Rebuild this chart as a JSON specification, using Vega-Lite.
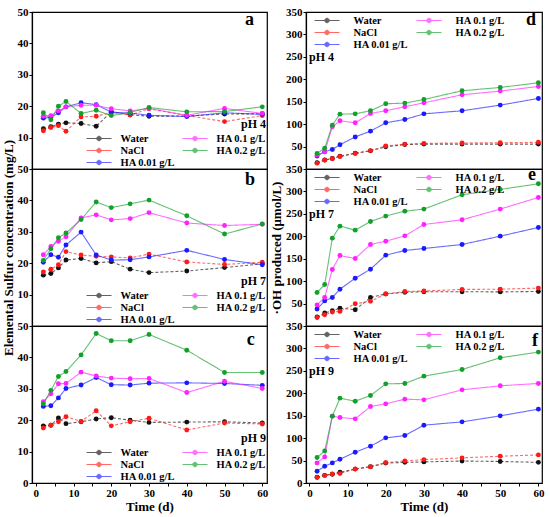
{
  "$schema": "https://vega.github.io/schema/vega-lite/v6.json",
  "background": "white",
  "padding": {"left": 1, "top": 5, "right": 5, "bottom": 5},
  "datasets": {
    "sulfur": [
      {"pH": 4, "t": 2, "Water": 12.8, "NaCl": 12.2, "HA001": 16.2, "HA01": 16.8, "HA02": 17.9},
      {"pH": 4, "t": 4, "Water": 13.5, "NaCl": 13.2, "HA001": 16.4, "HA01": 17.0, "HA02": 15.7},
      {"pH": 4, "t": 6, "Water": 14.3, "NaCl": 13.8, "HA001": 17.9, "HA01": 18.5, "HA02": 20.0},
      {"pH": 4, "t": 8, "Water": 14.7, "NaCl": 12.0, "HA001": 19.8, "HA01": 19.8, "HA02": 21.5},
      {"pH": 4, "t": 12, "Water": 14.5, "NaCl": 16.6, "HA001": 21.1, "HA01": 20.3, "HA02": 17.7},
      {"pH": 4, "t": 16, "Water": 13.6, "NaCl": 16.8, "HA001": 20.5, "HA01": 20.3, "HA02": 18.7},
      {"pH": 4, "t": 20, "Water": 18.2, "NaCl": 18.0, "HA001": 18.1, "HA01": 19.2, "HA02": 17.0},
      {"pH": 4, "t": 25, "Water": 17.3, "NaCl": 17.2, "HA001": 17.8, "HA01": 18.5, "HA02": 18.0},
      {"pH": 4, "t": 30, "Water": 16.8, "NaCl": 19.2, "HA001": 17.1, "HA01": 19.3, "HA02": 19.6},
      {"pH": 4, "t": 40, "Water": 16.9, "NaCl": 17.0, "HA001": 16.7, "HA01": 17.1, "HA02": 18.2},
      {"pH": 4, "t": 50, "Water": 17.5, "NaCl": 15.1, "HA001": 17.9, "HA01": 19.3, "HA02": 18.3},
      {"pH": 4, "t": 60, "Water": 17.6, "NaCl": 17.0, "HA001": 17.4, "HA01": 17.7, "HA02": 19.8},
      {"pH": 7, "t": 2, "Water": 16.2, "NaCl": 17.2, "HA001": 20.3, "HA01": 22.7, "HA02": 20.9},
      {"pH": 7, "t": 4, "Water": 16.7, "NaCl": 18.1, "HA001": 22.7, "HA01": 25.3, "HA02": 24.6},
      {"pH": 7, "t": 6, "Water": 18.5, "NaCl": 19.5, "HA001": 21.9, "HA01": 27.0, "HA02": 28.1},
      {"pH": 7, "t": 8, "Water": 21.0, "NaCl": 23.7, "HA001": 25.8, "HA01": 28.4, "HA02": 29.6},
      {"pH": 7, "t": 12, "Water": 21.5, "NaCl": 22.6, "HA001": 29.9, "HA01": 34.4, "HA02": 33.9},
      {"pH": 7, "t": 16, "Water": 20.1, "NaCl": 22.2, "HA001": 22.6, "HA01": 35.4, "HA02": 39.5},
      {"pH": 7, "t": 20, "Water": 20.5, "NaCl": 22.0, "HA001": 21.0, "HA01": 33.8, "HA02": 37.7},
      {"pH": 7, "t": 25, "Water": 18.1, "NaCl": 21.7, "HA001": 21.1, "HA01": 34.2, "HA02": 38.9},
      {"pH": 7, "t": 30, "Water": 17.0, "NaCl": 22.9, "HA001": 22.0, "HA01": 36.1, "HA02": 40.1},
      {"pH": 7, "t": 40, "Water": 17.5, "NaCl": 20.4, "HA001": 24.1, "HA01": 32.8, "HA02": 35.1},
      {"pH": 7, "t": 50, "Water": 18.6, "NaCl": 19.6, "HA001": 21.2, "HA01": 32.0, "HA02": 29.3},
      {"pH": 7, "t": 60, "Water": 19.8, "NaCl": 20.3, "HA001": 19.5, "HA01": 32.4, "HA02": 32.5},
      {"pH": 9, "t": 2, "Water": 18.2, "NaCl": 17.5, "HA001": 24.4, "HA01": 25.9, "HA02": 25.2},
      {"pH": 9, "t": 4, "Water": 18.4, "NaCl": 18.4, "HA001": 24.6, "HA01": 28.4, "HA02": 29.5},
      {"pH": 9, "t": 6, "Water": 20.7, "NaCl": 19.5, "HA001": 27.1, "HA01": 31.6, "HA02": 33.9},
      {"pH": 9, "t": 8, "Water": 18.9, "NaCl": 21.1, "HA001": 30.1, "HA01": 31.7, "HA02": 35.5},
      {"pH": 9, "t": 12, "Water": 19.5, "NaCl": 19.6, "HA001": 31.2, "HA01": 35.3, "HA02": 40.8},
      {"pH": 9, "t": 16, "Water": 20.4, "NaCl": 23.0, "HA001": 33.6, "HA01": 34.1, "HA02": 47.6},
      {"pH": 9, "t": 20, "Water": 20.8, "NaCl": 18.2, "HA001": 31.3, "HA01": 33.4, "HA02": 45.3},
      {"pH": 9, "t": 25, "Water": 20.0, "NaCl": 19.5, "HA001": 31.2, "HA01": 33.2, "HA02": 45.3},
      {"pH": 9, "t": 30, "Water": 19.3, "NaCl": 20.6, "HA001": 31.8, "HA01": 33.3, "HA02": 47.3},
      {"pH": 9, "t": 40, "Water": 19.4, "NaCl": 16.9, "HA001": 31.9, "HA01": 28.8, "HA02": 42.3},
      {"pH": 9, "t": 50, "Water": 19.5, "NaCl": 19.1, "HA001": 31.7, "HA01": 32.4, "HA02": 35.2},
      {"pH": 9, "t": 60, "Water": 19.1, "NaCl": 18.8, "HA001": 31.1, "HA01": 30.1, "HA02": 35.2}
    ],
    "oh": [
      {"pH": 4, "t": 2, "Water": 14.0, "NaCl": 13.0, "HA001": 29.0, "HA01": 31.0, "HA02": 34.5},
      {"pH": 4, "t": 4, "Water": 20.0, "NaCl": 19.7, "HA001": 38.5, "HA01": 38.2, "HA02": 46.4},
      {"pH": 4, "t": 6, "Water": 23.5, "NaCl": 23.0, "HA001": 43.5, "HA01": 94.0, "HA02": 97.8},
      {"pH": 4, "t": 8, "Water": 28.5, "NaCl": 27.8, "HA001": 54.2, "HA01": 107.4, "HA02": 122.3},
      {"pH": 4, "t": 12, "Water": 35.3, "NaCl": 34.5, "HA001": 71.5, "HA01": 103.0, "HA02": 123.0},
      {"pH": 4, "t": 16, "Water": 40.5, "NaCl": 41.0, "HA001": 84.4, "HA01": 123.8, "HA02": 129.8},
      {"pH": 4, "t": 20, "Water": 49.5, "NaCl": 51.3, "HA001": 103.0, "HA01": 129.8, "HA02": 145.4},
      {"pH": 4, "t": 25, "Water": 54.5, "NaCl": 55.3, "HA001": 110.4, "HA01": 138.7, "HA02": 146.9},
      {"pH": 4, "t": 30, "Water": 55.5, "NaCl": 57.2, "HA001": 123.0, "HA01": 147.6, "HA02": 155.0},
      {"pH": 4, "t": 40, "Water": 55.5, "NaCl": 58.0, "HA001": 129.8, "HA01": 165.5, "HA02": 174.4},
      {"pH": 4, "t": 50, "Water": 55.5, "NaCl": 58.5, "HA001": 142.4, "HA01": 173.7, "HA02": 181.8},
      {"pH": 4, "t": 60, "Water": 55.5, "NaCl": 59.5, "HA001": 157.3, "HA01": 184.0, "HA02": 192.2},
      {"pH": 7, "t": 2, "Water": 20.0, "NaCl": 18.8, "HA001": 38.0, "HA01": 47.0, "HA02": 74.6},
      {"pH": 7, "t": 4, "Water": 29.0, "NaCl": 25.0, "HA001": 56.0, "HA01": 63.4, "HA02": 92.4},
      {"pH": 7, "t": 6, "Water": 34.0, "NaCl": 31.0, "HA001": 63.4, "HA01": 126.0, "HA02": 195.8},
      {"pH": 7, "t": 8, "Water": 39.6, "NaCl": 32.5, "HA001": 82.0, "HA01": 157.1, "HA02": 222.6},
      {"pH": 7, "t": 12, "Water": 36.3, "NaCl": 49.6, "HA001": 106.5, "HA01": 150.4, "HA02": 213.7},
      {"pH": 7, "t": 16, "Water": 63.5, "NaCl": 55.2, "HA001": 126.6, "HA01": 181.7, "HA02": 233.0},
      {"pH": 7, "t": 20, "Water": 71.6, "NaCl": 71.5, "HA001": 157.9, "HA01": 189.0, "HA02": 245.0},
      {"pH": 7, "t": 25, "Water": 75.0, "NaCl": 77.0, "HA001": 168.3, "HA01": 201.0, "HA02": 256.0},
      {"pH": 7, "t": 30, "Water": 76.5, "NaCl": 78.0, "HA001": 172.8, "HA01": 226.3, "HA02": 260.6},
      {"pH": 7, "t": 40, "Water": 76.5, "NaCl": 81.5, "HA001": 181.7, "HA01": 236.8, "HA02": 292.6},
      {"pH": 7, "t": 50, "Water": 76.0, "NaCl": 82.0, "HA001": 200.3, "HA01": 260.6, "HA02": 304.5},
      {"pH": 7, "t": 60, "Water": 77.0, "NaCl": 84.5, "HA001": 219.6, "HA01": 286.6, "HA02": 317.0},
      {"pH": 9, "t": 2, "Water": 13.0, "NaCl": 12.3, "HA001": 26.2, "HA01": 44.8, "HA02": 56.7},
      {"pH": 9, "t": 4, "Water": 17.0, "NaCl": 16.5, "HA001": 37.4, "HA01": 58.2, "HA02": 71.6},
      {"pH": 9, "t": 6, "Water": 19.5, "NaCl": 20.2, "HA001": 44.8, "HA01": 149.0, "HA02": 149.0},
      {"pH": 9, "t": 8, "Water": 24.0, "NaCl": 21.0, "HA001": 53.0, "HA01": 146.0, "HA02": 189.1},
      {"pH": 9, "t": 12, "Water": 31.0, "NaCl": 31.4, "HA001": 68.6, "HA01": 143.0, "HA02": 182.4},
      {"pH": 9, "t": 16, "Water": 36.5, "NaCl": 35.9, "HA001": 82.0, "HA01": 170.5, "HA02": 195.0},
      {"pH": 9, "t": 20, "Water": 44.5, "NaCl": 45.5, "HA001": 100.6, "HA01": 176.5, "HA02": 221.0},
      {"pH": 9, "t": 25, "Water": 46.0, "NaCl": 49.3, "HA001": 105.8, "HA01": 186.9, "HA02": 221.9},
      {"pH": 9, "t": 30, "Water": 47.0, "NaCl": 52.2, "HA001": 128.9, "HA01": 185.4, "HA02": 238.2},
      {"pH": 9, "t": 40, "Water": 49.0, "NaCl": 56.0, "HA001": 136.3, "HA01": 207.7, "HA02": 253.1},
      {"pH": 9, "t": 50, "Water": 48.0, "NaCl": 59.7, "HA001": 149.7, "HA01": 216.7, "HA02": 279.2},
      {"pH": 9, "t": 60, "Water": 46.0, "NaCl": 62.6, "HA001": 164.6, "HA01": 221.9, "HA02": 291.8}
    ]
  },
  "config": {
    "font": "Liberation Serif",
    "view": {"stroke": "#000", "strokeWidth": 1.2},
    "title": {"font": "Liberation Serif", "fontWeight": "bold", "fontSize": 18, "anchor": "end", "color": "#000", "baseline": "alphabetic"},
    "axis": {
      "grid": false,
      "labelFont": "Liberation Serif",
      "labelFontWeight": "bold",
      "labelFontSize": 11,
      "labelColor": "#000",
      "labelPadding": 1,
      "labelOverlap": false,
      "labelFlush": false,
      "tickColor": "#000",
      "tickSize": 3,
      "domainColor": "#000",
      "domainWidth": 1.2,
      "titleFont": "Liberation Serif",
      "titleFontWeight": "bold",
      "titleFontSize": 13,
      "titleColor": "#000",
      "titlePadding": 2
    },
    "legend": {
      "symbolType": "M-2.5,0H2.5M-0.45,0A0.45,0.45,0,1,0,0.45,0A0.45,0.45,0,1,0,-0.45,0Z",
      "symbolSize": 100,
      "symbolStrokeWidth": 1,
      "labelFont": "Liberation Serif",
      "labelFontWeight": "bold",
      "labelFontSize": 10.5,
      "labelColor": "#000",
      "titleFont": "Liberation Serif",
      "titleFontWeight": "bold",
      "titleFontSize": 12,
      "titleColor": "#000",
      "titlePadding": 2,
      "rowPadding": 1,
      "padding": 0
    }
  },
  "spacing": 0,
  "resolve": {"scale": {"color": "shared", "strokeDash": "shared"}, "legend": {"color": "independent"}},
  "hconcat": [
    {
      "spacing": 0,
      "bounds": "flush",
      "resolve": {"scale": {"color": "shared", "strokeDash": "shared"}, "legend": {"color": "independent"}},
      "vconcat": [
        {
          "width": 235, "height": 157,
          "title": {"text": "a", "offset": -23, "dx": -13},
          "data": {"name": "sulfur"},
          "transform": [{"filter": "datum.pH == 4"}, {"fold": ["Water", "NaCl", "HA001", "HA01", "HA02"], "as": ["series", "value"]}],
          "encoding": {
            "x": {"field": "t", "type": "quantitative", "scale": {"domain": [-1, 61.25], "nice": false}, "axis": null},
            "y": {"field": "value", "type": "quantitative", "scale": {"domain": [0, 50], "nice": false}, "axis": {"values": [10, 20, 30, 40, 50], "title": null}}
          },
          "layer": [
            {
              "mark": {"type": "line", "strokeWidth": 1.1, "opacity": 0.65},
              "encoding": {
                "color": {"field": "series", "type": "nominal", "scale": {"domain": ["Water", "HA01", "NaCl", "HA02", "HA001"], "range": ["#111111", "#ff22ff", "#ff1a1a", "#12a02a", "#1a1aff"]},
                  "legend": {"title": "pH 4", "titleAnchor": "end", "titleOrient": "top", "orient": "bottom-right", "direction": "horizontal", "columns": 2, "gridAlign": "none", "offset": 1,
                    "symbolOffset": 7.5, "labelOffset": 16, "columnPadding": 4,
                    "labelExpr": "datum.label == 'HA001' ? 'HA 0.01 g/L' : datum.label == 'HA01' ? 'HA 0.1 g/L' : datum.label == 'HA02' ? 'HA 0.2 g/L' : datum.label",
                    "encode": {"symbols": {"update": {
                      "fill": {"signal": "datum.value == 'Water' ? '#111111' : datum.value == 'NaCl' ? '#ff1a1a' : datum.value == 'HA001' ? '#1a1aff' : datum.value == 'HA01' ? '#ff22ff' : '#12a02a'"},
                      "strokeDash": {"signal": "datum.value == 'Water' || datum.value == 'NaCl' ? [3, 2] : [1, 0]"}}}}}},
                "strokeDash": {"field": "series", "type": "nominal", "scale": {"domain": ["Water", "HA01", "NaCl", "HA02", "HA001"], "range": [[3, 2], [1, 0], [3, 2], [1, 0], [1, 0]]}, "legend": null}
              }
            },
            {
              "mark": {"type": "point", "filled": true, "size": 24, "opacity": 1},
              "encoding": {"color": {"field": "series", "type": "nominal", "scale": {"domain": ["Water", "HA01", "NaCl", "HA02", "HA001"]}, "legend": null}}
            }
          ]
        },
        {
          "width": 235, "height": 157,
          "title": {"text": "b", "offset": -50, "dx": -12},
          "data": {"name": "sulfur"},
          "transform": [{"filter": "datum.pH == 7"}, {"fold": ["Water", "NaCl", "HA001", "HA01", "HA02"], "as": ["series", "value"]}],
          "encoding": {
            "x": {"field": "t", "type": "quantitative", "scale": {"domain": [-1, 61.25], "nice": false}, "axis": null},
            "y": {"field": "value", "type": "quantitative", "scale": {"domain": [0, 50], "nice": false}, "axis": {"values": [10, 20, 30, 40, 50], "title": "Elemental Sulfur concentration (mg/L)"}}
          },
          "layer": [
            {
              "mark": {"type": "line", "strokeWidth": 1.1, "opacity": 0.65},
              "encoding": {
                "color": {"field": "series", "type": "nominal", "scale": {"domain": ["Water", "HA01", "NaCl", "HA02", "HA001"], "range": ["#111111", "#ff22ff", "#ff1a1a", "#12a02a", "#1a1aff"]},
                  "legend": {"title": "pH 7", "titleAnchor": "end", "titleOrient": "top", "orient": "bottom-right", "direction": "horizontal", "columns": 2, "gridAlign": "none", "offset": 1,
                    "symbolOffset": 7.5, "labelOffset": 16, "columnPadding": 4,
                    "labelExpr": "datum.label == 'HA001' ? 'HA 0.01 g/L' : datum.label == 'HA01' ? 'HA 0.1 g/L' : datum.label == 'HA02' ? 'HA 0.2 g/L' : datum.label",
                    "encode": {"symbols": {"update": {
                      "fill": {"signal": "datum.value == 'Water' ? '#111111' : datum.value == 'NaCl' ? '#ff1a1a' : datum.value == 'HA001' ? '#1a1aff' : datum.value == 'HA01' ? '#ff22ff' : '#12a02a'"},
                      "strokeDash": {"signal": "datum.value == 'Water' || datum.value == 'NaCl' ? [3, 2] : [1, 0]"}}}}}},
                "strokeDash": {"field": "series", "type": "nominal", "scale": {"domain": ["Water", "HA01", "NaCl", "HA02", "HA001"], "range": [[3, 2], [1, 0], [3, 2], [1, 0], [1, 0]]}, "legend": null}
              }
            },
            {
              "mark": {"type": "point", "filled": true, "size": 24, "opacity": 1},
              "encoding": {"color": {"field": "series", "type": "nominal", "scale": {"domain": ["Water", "HA01", "NaCl", "HA02", "HA001"]}, "legend": null}}
            }
          ]
        },
        {
          "width": 235, "height": 157,
          "title": {"text": "c", "offset": -29, "dx": -13},
          "data": {"name": "sulfur"},
          "transform": [{"filter": "datum.pH == 9"}, {"fold": ["Water", "NaCl", "HA001", "HA01", "HA02"], "as": ["series", "value"]}],
          "encoding": {
            "x": {"field": "t", "type": "quantitative", "scale": {"domain": [-1, 61.25], "nice": false},
              "axis": {"values": [0, 5, 10, 15, 20, 25, 30, 35, 40, 45, 50, 55, 60], "labelExpr": "datum.value % 10 == 0 ? datum.label : ''", "title": "Time (d)"}},
            "y": {"field": "value", "type": "quantitative", "scale": {"domain": [0, 50], "nice": false}, "axis": {"values": [0, 10, 20, 30, 40, 50], "title": null}}
          },
          "layer": [
            {
              "mark": {"type": "line", "strokeWidth": 1.1, "opacity": 0.65},
              "encoding": {
                "color": {"field": "series", "type": "nominal", "scale": {"domain": ["Water", "HA01", "NaCl", "HA02", "HA001"], "range": ["#111111", "#ff22ff", "#ff1a1a", "#12a02a", "#1a1aff"]},
                  "legend": {"title": "pH 9", "titleAnchor": "end", "titleOrient": "top", "orient": "bottom-right", "direction": "horizontal", "columns": 2, "gridAlign": "none", "offset": 1,
                    "symbolOffset": 7.5, "labelOffset": 16, "columnPadding": 4,
                    "labelExpr": "datum.label == 'HA001' ? 'HA 0.01 g/L' : datum.label == 'HA01' ? 'HA 0.1 g/L' : datum.label == 'HA02' ? 'HA 0.2 g/L' : datum.label",
                    "encode": {"symbols": {"update": {
                      "fill": {"signal": "datum.value == 'Water' ? '#111111' : datum.value == 'NaCl' ? '#ff1a1a' : datum.value == 'HA001' ? '#1a1aff' : datum.value == 'HA01' ? '#ff22ff' : '#12a02a'"},
                      "strokeDash": {"signal": "datum.value == 'Water' || datum.value == 'NaCl' ? [3, 2] : [1, 0]"}}}}}},
                "strokeDash": {"field": "series", "type": "nominal", "scale": {"domain": ["Water", "HA01", "NaCl", "HA02", "HA001"], "range": [[3, 2], [1, 0], [3, 2], [1, 0], [1, 0]]}, "legend": null}
              }
            },
            {
              "mark": {"type": "point", "filled": true, "size": 24, "opacity": 1},
              "encoding": {"color": {"field": "series", "type": "nominal", "scale": {"domain": ["Water", "HA01", "NaCl", "HA02", "HA001"]}, "legend": null}}
            }
          ]
        }
      ]
    },
    {
      "spacing": 0,
      "bounds": "flush",
      "resolve": {"scale": {"color": "shared", "strokeDash": "shared"}, "legend": {"color": "independent"}},
      "vconcat": [
        {
          "width": 236, "height": 157,
          "title": {"text": "d", "offset": -23, "dx": -6},
          "data": {"name": "oh"},
          "transform": [{"filter": "datum.pH == 4"}, {"fold": ["Water", "NaCl", "HA001", "HA01", "HA02"], "as": ["series", "value"]}],
          "encoding": {
            "x": {"field": "t", "type": "quantitative", "scale": {"domain": [-0.9, 60.95], "nice": false}, "axis": null},
            "y": {"field": "value", "type": "quantitative", "scale": {"domain": [0, 350], "nice": false}, "axis": {"values": [50, 100, 150, 200, 250, 300, 350], "title": null}}
          },
          "layer": [
            {
              "mark": {"type": "line", "strokeWidth": 1.1, "opacity": 0.65},
              "encoding": {
                "color": {"field": "series", "type": "nominal", "scale": {"domain": ["Water", "HA01", "NaCl", "HA02", "HA001"], "range": ["#111111", "#ff22ff", "#ff1a1a", "#12a02a", "#1a1aff"]},
                  "legend": {"title": "pH 4", "titleAnchor": "start", "titleOrient": "bottom", "orient": "top-left", "direction": "horizontal", "columns": 2, "gridAlign": "none", "offset": 3,
                    "symbolOffset": 12.5, "labelOffset": 21, "columnPadding": 2,
                    "labelExpr": "datum.label == 'HA001' ? 'HA 0.01 g/L' : datum.label == 'HA01' ? 'HA 0.1 g/L' : datum.label == 'HA02' ? 'HA 0.2 g/L' : datum.label",
                    "encode": {"symbols": {"update": {
                      "fill": {"signal": "datum.value == 'Water' ? '#111111' : datum.value == 'NaCl' ? '#ff1a1a' : datum.value == 'HA001' ? '#1a1aff' : datum.value == 'HA01' ? '#ff22ff' : '#12a02a'"},
                      "strokeDash": {"signal": "datum.value == 'Water' || datum.value == 'NaCl' ? [3, 2] : [1, 0]"}}}}}},
                "strokeDash": {"field": "series", "type": "nominal", "scale": {"domain": ["Water", "HA01", "NaCl", "HA02", "HA001"], "range": [[3, 2], [1, 0], [3, 2], [1, 0], [1, 0]]}, "legend": null}
              }
            },
            {
              "mark": {"type": "point", "filled": true, "size": 24, "opacity": 1},
              "encoding": {"color": {"field": "series", "type": "nominal", "scale": {"domain": ["Water", "HA01", "NaCl", "HA02", "HA001"]}, "legend": null}}
            }
          ]
        },
        {
          "width": 236, "height": 157,
          "title": {"text": "e", "offset": -21, "dx": -6},
          "data": {"name": "oh"},
          "transform": [{"filter": "datum.pH == 7"}, {"fold": ["Water", "NaCl", "HA001", "HA01", "HA02"], "as": ["series", "value"]}],
          "encoding": {
            "x": {"field": "t", "type": "quantitative", "scale": {"domain": [-0.9, 60.95], "nice": false}, "axis": null},
            "y": {"field": "value", "type": "quantitative", "scale": {"domain": [0, 350], "nice": false}, "axis": {"values": [50, 100, 150, 200, 250, 300, 350], "title": "·OH produced (μmol/L)"}}
          },
          "layer": [
            {
              "mark": {"type": "line", "strokeWidth": 1.1, "opacity": 0.65},
              "encoding": {
                "color": {"field": "series", "type": "nominal", "scale": {"domain": ["Water", "HA01", "NaCl", "HA02", "HA001"], "range": ["#111111", "#ff22ff", "#ff1a1a", "#12a02a", "#1a1aff"]},
                  "legend": {"title": "pH 7", "titleAnchor": "start", "titleOrient": "bottom", "orient": "top-left", "direction": "horizontal", "columns": 2, "gridAlign": "none", "offset": 3,
                    "symbolOffset": 12.5, "labelOffset": 21, "columnPadding": 2,
                    "labelExpr": "datum.label == 'HA001' ? 'HA 0.01 g/L' : datum.label == 'HA01' ? 'HA 0.1 g/L' : datum.label == 'HA02' ? 'HA 0.2 g/L' : datum.label",
                    "encode": {"symbols": {"update": {
                      "fill": {"signal": "datum.value == 'Water' ? '#111111' : datum.value == 'NaCl' ? '#ff1a1a' : datum.value == 'HA001' ? '#1a1aff' : datum.value == 'HA01' ? '#ff22ff' : '#12a02a'"},
                      "strokeDash": {"signal": "datum.value == 'Water' || datum.value == 'NaCl' ? [3, 2] : [1, 0]"}}}}}},
                "strokeDash": {"field": "series", "type": "nominal", "scale": {"domain": ["Water", "HA01", "NaCl", "HA02", "HA001"], "range": [[3, 2], [1, 0], [3, 2], [1, 0], [1, 0]]}, "legend": null}
              }
            },
            {
              "mark": {"type": "point", "filled": true, "size": 24, "opacity": 1},
              "encoding": {"color": {"field": "series", "type": "nominal", "scale": {"domain": ["Water", "HA01", "NaCl", "HA02", "HA001"]}, "legend": null}}
            }
          ]
        },
        {
          "width": 236, "height": 157,
          "title": {"text": "f", "offset": -29.5, "dx": -6},
          "data": {"name": "oh"},
          "transform": [{"filter": "datum.pH == 9"}, {"fold": ["Water", "NaCl", "HA001", "HA01", "HA02"], "as": ["series", "value"]}],
          "encoding": {
            "x": {"field": "t", "type": "quantitative", "scale": {"domain": [-0.9, 60.95], "nice": false},
              "axis": {"values": [0, 5, 10, 15, 20, 25, 30, 35, 40, 45, 50, 55, 60], "labelExpr": "datum.value % 10 == 0 ? datum.label : ''", "title": "Time (d)"}},
            "y": {"field": "value", "type": "quantitative", "scale": {"domain": [0, 350], "nice": false}, "axis": {"values": [0, 50, 100, 150, 200, 250, 300, 350], "title": null}}
          },
          "layer": [
            {
              "mark": {"type": "line", "strokeWidth": 1.1, "opacity": 0.65},
              "encoding": {
                "color": {"field": "series", "type": "nominal", "scale": {"domain": ["Water", "HA01", "NaCl", "HA02", "HA001"], "range": ["#111111", "#ff22ff", "#ff1a1a", "#12a02a", "#1a1aff"]},
                  "legend": {"title": "pH 9", "titleAnchor": "start", "titleOrient": "bottom", "orient": "top-left", "direction": "horizontal", "columns": 2, "gridAlign": "none", "offset": 3,
                    "symbolOffset": 12.5, "labelOffset": 21, "columnPadding": 2,
                    "labelExpr": "datum.label == 'HA001' ? 'HA 0.01 g/L' : datum.label == 'HA01' ? 'HA 0.1 g/L' : datum.label == 'HA02' ? 'HA 0.2 g/L' : datum.label",
                    "encode": {"symbols": {"update": {
                      "fill": {"signal": "datum.value == 'Water' ? '#111111' : datum.value == 'NaCl' ? '#ff1a1a' : datum.value == 'HA001' ? '#1a1aff' : datum.value == 'HA01' ? '#ff22ff' : '#12a02a'"},
                      "strokeDash": {"signal": "datum.value == 'Water' || datum.value == 'NaCl' ? [3, 2] : [1, 0]"}}}}}},
                "strokeDash": {"field": "series", "type": "nominal", "scale": {"domain": ["Water", "HA01", "NaCl", "HA02", "HA001"], "range": [[3, 2], [1, 0], [3, 2], [1, 0], [1, 0]]}, "legend": null}
              }
            },
            {
              "mark": {"type": "point", "filled": true, "size": 24, "opacity": 1},
              "encoding": {"color": {"field": "series", "type": "nominal", "scale": {"domain": ["Water", "HA01", "NaCl", "HA02", "HA001"]}, "legend": null}}
            }
          ]
        }
      ]
    }
  ]
}
